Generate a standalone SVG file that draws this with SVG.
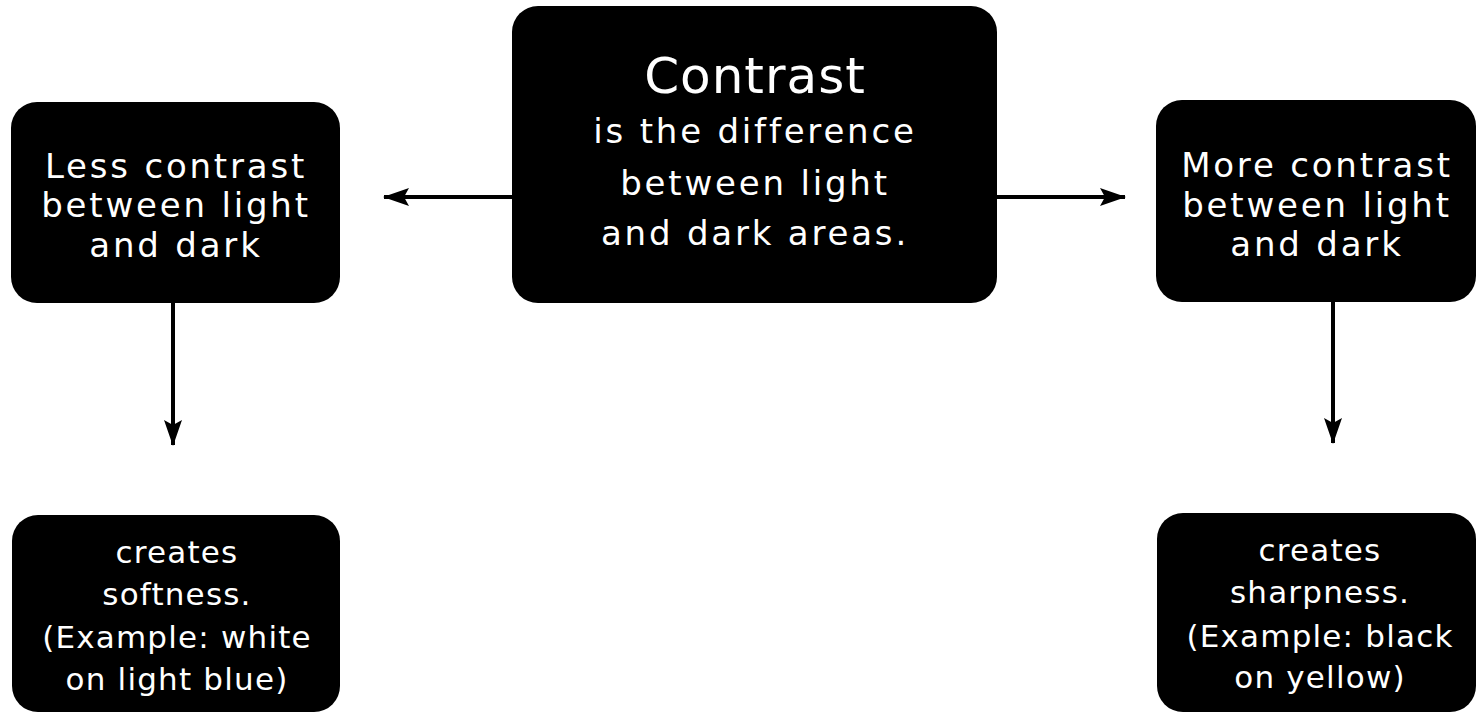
<svg xmlns="http://www.w3.org/2000/svg" width="1478" height="712" viewBox="0 0 1478 712">
<style>
.box{fill:#000}
.t{fill:#fff;font-family:"DejaVu Sans","Liberation Sans",sans-serif;text-anchor:middle}
.m{font-size:34px;letter-spacing:2.8px}
.s{font-size:31px;letter-spacing:1.2px}
.big{font-size:50px;letter-spacing:1px}
.c{stroke:#000;stroke-width:4;fill:none}
</style>
<defs>
<marker id="ah" viewBox="0 0 26 18" refX="25" refY="9" markerWidth="26" markerHeight="18" markerUnits="userSpaceOnUse" orient="auto">
<path d="M0,0 L26,9 L0,18 L5,9 Z" fill="#000"/>
</marker>
</defs>
<rect width="1478" height="712" fill="#fff"/>
<g id="connectors">
<line class="c" x1="512" y1="197" x2="384" y2="197" marker-end="url(#ah)"/>
<line class="c" x1="997" y1="197" x2="1125" y2="197" marker-end="url(#ah)"/>
<line class="c" x1="173" y1="303" x2="173" y2="445" marker-end="url(#ah)"/>
<line class="c" x1="1333" y1="302" x2="1333" y2="443" marker-end="url(#ah)"/>
</g>
<g id="center">
<rect class="box" x="512" y="6" width="485" height="297" rx="26"/>
<text class="t big" x="755" y="93">Contrast</text>
<text class="t m" x="755" y="143">is the difference</text>
<text class="t m" x="755" y="195">between light</text>
<text class="t m" x="755" y="245">and dark areas.</text>
</g>
<g id="less">
<rect class="box" x="11" y="102" width="329" height="201" rx="26"/>
<text class="t m" x="176" y="178">Less contrast</text>
<text class="t m" x="176" y="217">between light</text>
<text class="t m" x="176" y="257">and dark</text>
</g>
<g id="more">
<rect class="box" x="1156" y="100" width="320" height="202" rx="26"/>
<text class="t m" x="1317" y="177">More contrast</text>
<text class="t m" x="1317" y="217">between light</text>
<text class="t m" x="1317" y="256">and dark</text>
</g>
<g id="softness">
<rect class="box" x="12" y="515" width="328" height="197" rx="26"/>
<text class="t s" x="177" y="563">creates</text>
<text class="t s" x="177" y="605">softness.</text>
<text class="t s" x="177" y="648">(Example: white</text>
<text class="t s" x="177" y="690">on light blue)</text>
</g>
<g id="sharpness">
<rect class="box" x="1157" y="513" width="319" height="199" rx="26"/>
<text class="t s" x="1320" y="561">creates</text>
<text class="t s" x="1320" y="603">sharpness.</text>
<text class="t s" x="1320" y="647">(Example: black</text>
<text class="t s" x="1320" y="688">on yellow)</text>
</g>
</svg>
